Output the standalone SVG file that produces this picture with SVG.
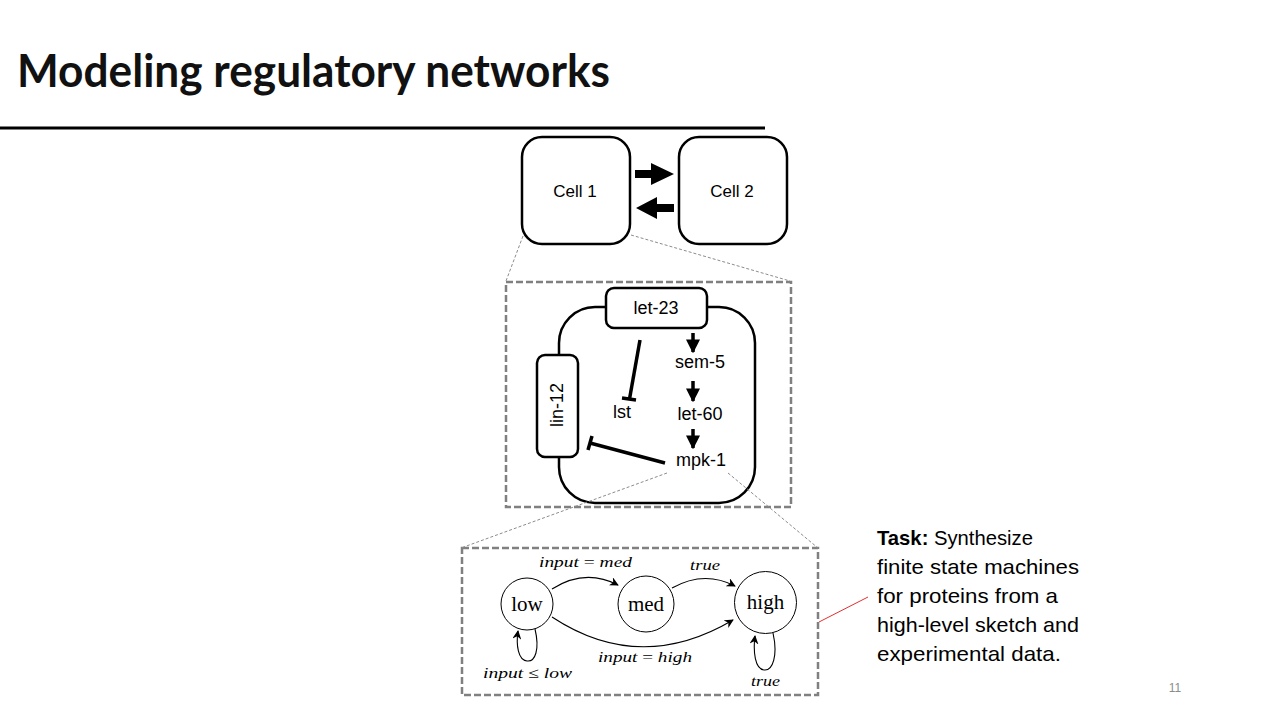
<svg xmlns="http://www.w3.org/2000/svg" width="1280" height="720" viewBox="0 0 1280 720">
<style>
.sans{font-family:"Liberation Sans",Arial,sans-serif;fill:#000}
.box{fill:#fff;stroke:#000;stroke-width:2.5}
.zoomline{fill:none;stroke:#8c8c8c;stroke-width:1;stroke-dasharray:3 2}
.dash{fill:none;stroke:#808080;stroke-width:2.5;stroke-dasharray:7 3}
.fsm{fill:#fff;stroke:#000;stroke-width:1}
.edge{fill:none;stroke:#000;stroke-width:1.1}
.st{font-family:"Liberation Serif","Times New Roman",serif;font-size:21px;fill:#000}
.m{font-family:"Liberation Serif","Times New Roman",serif;font-size:15px;font-style:italic;fill:#000}
.up{font-style:normal}
.thick{stroke:#000;stroke-width:3.5;fill:none}
</style>
<defs>
<marker id="ah" viewBox="0 0 10 10" refX="9" refY="5" markerWidth="9" markerHeight="9" markerUnits="userSpaceOnUse" orient="auto">
<path d="M0,0 L10,5 L0,10 L3,5 Z" fill="#000"/>
</marker>
<marker id="bh" viewBox="0 0 10 10" refX="9" refY="5" markerWidth="14" markerHeight="14" markerUnits="userSpaceOnUse" orient="auto">
<path d="M0,0 L10,5 L0,10 Z" fill="#000"/>
</marker>
</defs>
<rect width="1280" height="720" fill="#fff"/>
<g id="title">
<text x="17" y="87" font-family="Lato,'Noto Sans',sans-serif" font-size="46" font-weight="bold" fill="#111" textLength="593" lengthAdjust="spacingAndGlyphs">Modeling regulatory networks</text>
<line x1="0" y1="128" x2="765" y2="128" stroke="#000" stroke-width="3"/>
</g>
<g id="cell1">
<rect class="box" x="522" y="137" width="108" height="107" rx="20"/>
<text class="sans" x="575" y="197" font-size="17" text-anchor="middle">Cell 1</text>
</g>
<g id="cell2">
<rect class="box" x="679" y="137" width="108" height="107" rx="20"/>
<text class="sans" x="732" y="197" font-size="17" text-anchor="middle">Cell 2</text>
</g>
<g id="zoom-cell">
<rect class="dash" x="506" y="282" width="285" height="225"/>
<rect class="box" x="559" y="307" width="196" height="196" rx="36"/>
</g>
<g id="let-23">
<rect class="box" x="606" y="288" width="101" height="40" rx="8"/>
<text class="sans" x="656" y="314" font-size="18" text-anchor="middle">let-23</text>
</g>
<g id="lin-12">
<rect class="box" x="537" y="355" width="41" height="102" rx="8"/>
<text class="sans" x="0" y="0" font-size="18" text-anchor="middle" transform="translate(563,405) rotate(-90)">lin-12</text>
</g>
<g id="sem-5"><text class="sans" x="700" y="368" font-size="18" text-anchor="middle">sem-5</text></g>
<g id="let-60"><text class="sans" x="700" y="420" font-size="18" text-anchor="middle">let-60</text></g>
<g id="mpk-1"><text class="sans" x="701" y="466" font-size="18" text-anchor="middle">mpk-1</text></g>
<g id="lst"><text class="sans" x="622" y="418" font-size="18" text-anchor="middle">lst</text></g>
<g id="fsm-box"><rect class="dash" x="462" y="548" width="356" height="147"/></g>
<g id="low">
<circle class="fsm" cx="527" cy="604" r="26"/>
<text class="st" x="527" y="611" text-anchor="middle">low</text>
</g>
<g id="med">
<circle class="fsm" cx="646" cy="604" r="28"/>
<text class="st" x="646" y="611" text-anchor="middle">med</text>
</g>
<g id="high">
<circle class="fsm" cx="765.5" cy="602.5" r="31"/>
<text class="st" x="765.5" y="609" text-anchor="middle">high</text>
</g>
<g id="connectors">
<line class="zoomline" x1="523" y1="236" x2="506" y2="281"/>
<line class="zoomline" x1="631" y1="235" x2="790" y2="281"/>
<line class="zoomline" x1="667" y1="473" x2="461" y2="548"/>
<line class="zoomline" x1="728" y1="473" x2="818" y2="548"/>
<line x1="819" y1="622" x2="868" y2="597" stroke="#e03030" stroke-width="1"/>
<path d="M635,170 H651 V163 L674,174 L651,185 V178 H635 Z" fill="#000"/>
<path d="M674,204 H657 V197 L636,208 L657,219 V212 H674 Z" fill="#000"/>
<line class="thick" x1="693" y1="333" x2="693" y2="352" marker-end="url(#bh)"/>
<line class="thick" x1="693" y1="381" x2="693" y2="401" marker-end="url(#bh)"/>
<line class="thick" x1="693" y1="429" x2="693" y2="448" marker-end="url(#bh)"/>
<line class="thick" x1="640" y1="340" x2="629.5" y2="399"/>
<line class="thick" x1="622" y1="398" x2="636" y2="400"/>
<line class="thick" x1="665" y1="463" x2="590" y2="443"/>
<line class="thick" x1="592" y1="436" x2="588" y2="450"/>
<path class="edge" d="M552,589 Q585,568 618,585" marker-end="url(#ah)"/>
<path class="edge" d="M672,588 Q704,570 735,586" marker-end="url(#ah)"/>
<path class="edge" d="M552,617 Q640,675 733,620" marker-end="url(#ah)"/>
<path class="edge" d="M535,629 C540,650 535,662 527,661 C518,660 516,645 518,631" marker-end="url(#ah)"/>
<path class="edge" d="M773,633 C778,655 773,671 764,670 C755,669 753,652 755,636" marker-end="url(#ah)"/>
</g>
<g id="edge-labels">
<text class="m" x="539" y="567" textLength="93" lengthAdjust="spacingAndGlyphs">input <tspan class="up">=</tspan> med</text>
<text class="m" x="690" y="570" textLength="30" lengthAdjust="spacingAndGlyphs">true</text>
<text class="m" x="598" y="662" textLength="94" lengthAdjust="spacingAndGlyphs">input <tspan class="up">=</tspan> high</text>
<text class="m" x="483" y="678" textLength="89" lengthAdjust="spacingAndGlyphs">input <tspan class="up">≤</tspan> low</text>
<text class="m" x="751" y="686" textLength="29" lengthAdjust="spacingAndGlyphs">true</text>
</g>
<g id="task">
<text class="sans" font-size="21" x="877" y="545" textLength="156" lengthAdjust="spacingAndGlyphs"><tspan font-weight="bold">Task:</tspan> Synthesize</text>
<text class="sans" font-size="21" x="877" y="574" textLength="202" lengthAdjust="spacingAndGlyphs">finite state machines</text>
<text class="sans" font-size="21" x="877" y="603" textLength="181" lengthAdjust="spacingAndGlyphs">for proteins from a</text>
<text class="sans" font-size="21" x="877" y="632" textLength="202" lengthAdjust="spacingAndGlyphs">high-level sketch and</text>
<text class="sans" font-size="21" x="877" y="661" textLength="184" lengthAdjust="spacingAndGlyphs">experimental data.</text>
</g>
<g id="page"><text class="sans" x="1175" y="692" font-size="12" style="fill:#8c8c8c" text-anchor="middle">11</text></g>
</svg>
